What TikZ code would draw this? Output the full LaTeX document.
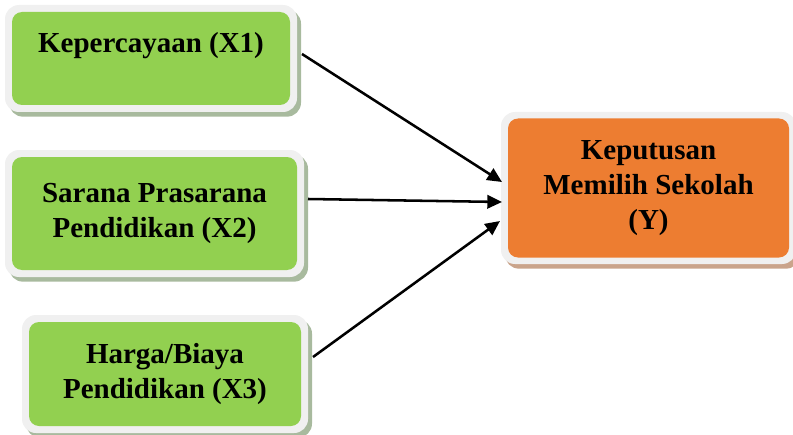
\documentclass[tikz,border=0pt]{standalone}
\usepackage{fontspec}
\setmainfont{Liberation Serif}
\usetikzlibrary{shadows,arrows.meta}
\definecolor{boxgreen}{HTML}{92D050}
\definecolor{boxorange}{HTML}{ED7D31}
\definecolor{rimgray}{HTML}{F0F0F0}
\definecolor{shadegreen}{HTML}{9FB294}
\definecolor{shadeorange}{HTML}{C49A7E}
\begin{document}
\begin{tikzpicture}[x=0.75pt,y=-0.75pt,
  rim/.style={fill=rimgray, rounded corners=10.5pt, inner sep=0pt, draw=none},
  core/.style={rounded corners=7.5pt, inner sep=0pt, align=center,
    font=\fontsize{21.75}{26.5}\selectfont\bfseries},
  gshadow/.style={drop shadow={shadow xshift=3pt, shadow yshift=-3.5pt, fill=shadegreen, opacity=0.9}},
  oshadow/.style={drop shadow={shadow xshift=3pt, shadow yshift=-3.5pt, fill=shadeorange, opacity=0.9}},
  label/.style={inner sep=0pt, font=\fontsize{21.75}{26.5}\selectfont\bfseries},
  link/.style={line width=1.9pt, -{Triangle[length=11pt,width=10pt]}}
]
\useasboundingbox (0,0) rectangle (793,435);

% X1
\node[rim, gshadow, minimum width=219pt, minimum height=80.25pt] (x1) at (151,58.5) {};
\node[core, fill=boxgreen, minimum width=208.5pt, minimum height=69.75pt] (x1i) at (151,58.5) {};
\node[label, anchor=base] (x1t) at (151,53) {Kepercayaan (X1)};

% X2
\node[rim, gshadow, minimum width=224.25pt, minimum height=95.25pt] (x2) at (154.5,213.5) {};
\node[core, fill=boxgreen, minimum width=213.75pt, minimum height=84.75pt] (x2i) at (154.5,213.5) {Sarana Prasarana\\Pendidikan (X2)};

% X3
\node[rim, gshadow, minimum width=214.5pt, minimum height=88.5pt] (x3) at (165,374) {};
\node[core, fill=boxgreen, minimum width=204pt, minimum height=78pt] (x3i) at (165,374) {Harga/Biaya\\Pendidikan (X3)};

% Y
\node[rim, oshadow, minimum width=221.25pt, minimum height=114pt] (y) at (648.5,188) {};
\node[core, fill=boxorange, minimum width=210.75pt, minimum height=104.25pt] (yi) at (648.5,188) {Keputusan\\Memilih Sekolah\\(Y)};

% connector end points
\coordinate (s1) at (302,54);
\coordinate (s2) at (308,199);
\coordinate (s3) at (313,357);
\coordinate (e1) at (502,182);
\coordinate (e2) at (502,202);
\coordinate (e3) at (500,221);

\draw[link] (s1) -- (e1);
\draw[link] (s2) -- (e2);
\draw[link] (s3) -- (e3);
\end{tikzpicture}
\end{document}
